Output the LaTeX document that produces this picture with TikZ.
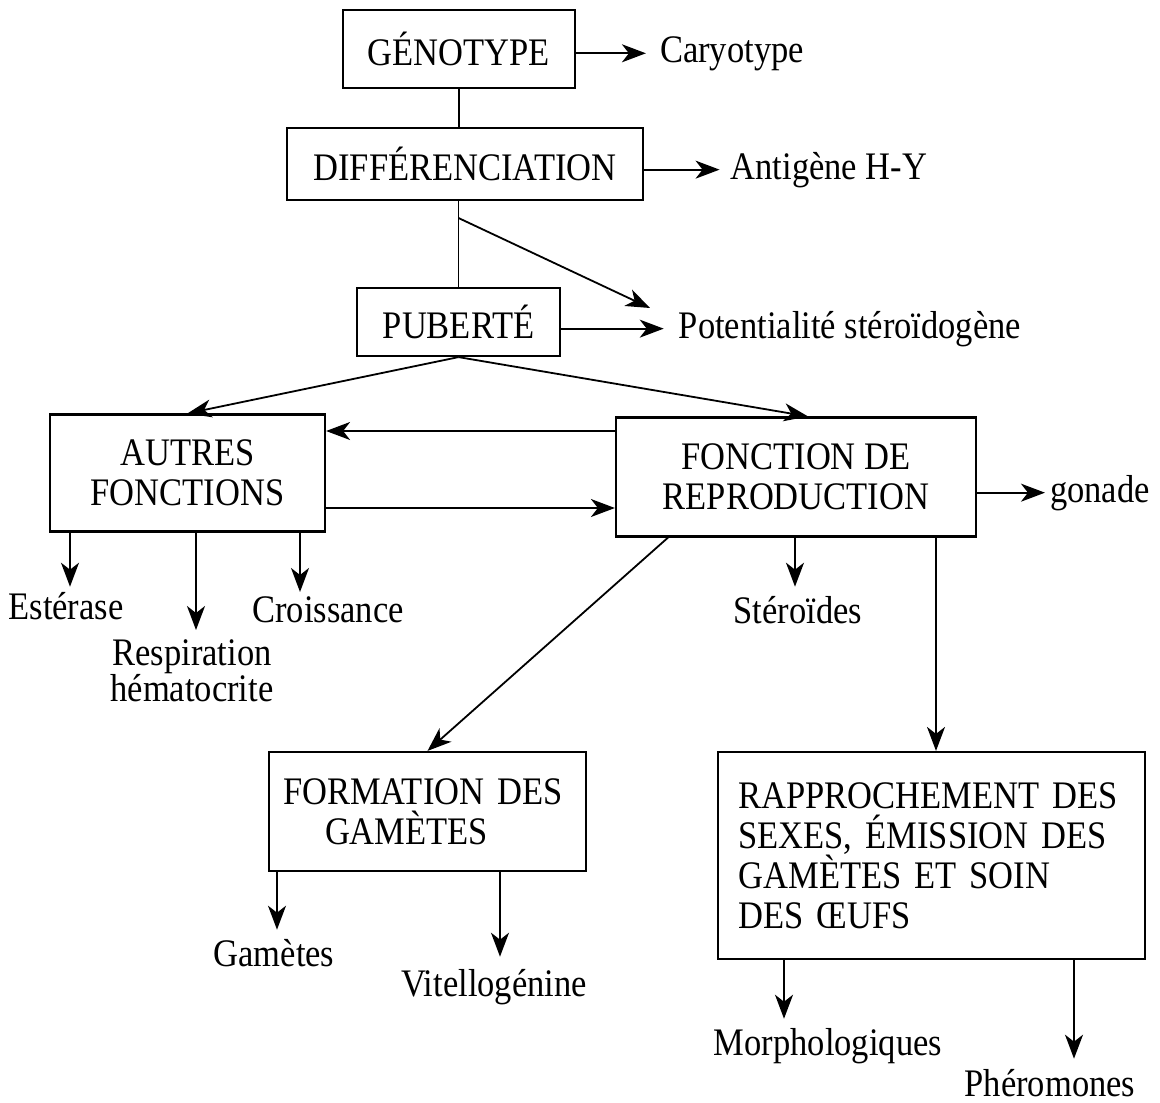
\documentclass[tikz,border=0pt]{standalone}
\usepackage{fontspec}
\setmainfont{Liberation Serif}[FakeStretch=0.885]
\usetikzlibrary{arrows.meta,calc}
\begin{document}
\begin{tikzpicture}[x=1pt,y=-1pt,
  box/.style={draw,line width=2.2pt,inner sep=0pt,align=center,font=\fontsize{39}{40}\selectfont},
  lbl/.style={inner sep=0pt,anchor=base,font=\fontsize{39}{35}\selectfont},
  ln/.style={line width=1.8pt},
  arr/.style={line width=1.8pt,-{Stealth[length=24pt,width=18pt,inset=7pt]}}]
\useasboundingbox (0,0) rectangle (1160,1103);
\fill[white] (0,0) rectangle (1160,1103);

% boxes
\node[box,minimum width=232pt,minimum height=78pt] (gen) at (459,49) {GÉNOTYPE};
\node[box,minimum width=356pt,minimum height=72pt] (diff) at (465,164) {DIFFÉRENCIATION};
\node[box,minimum width=203pt,minimum height=68pt] (pub) at (458.5,322) {PUBERTÉ};
\node[box,minimum width=275pt,minimum height=117pt] (af) at (187.5,473) {AUTRES\\FONCTIONS};
\node[box,minimum width=360pt,minimum height=119pt] (fdr) at (796,477) {FONCTION DE\\REPRODUCTION};
\node[box,minimum width=317pt,minimum height=119pt,align=left,text width=289pt] (form) at (427.5,811.5) {FORMATION DES\\\hspace*{42pt}GAMÈTES};
\node[box,minimum width=427pt,minimum height=207pt,align=left,text width=386pt] (rapp) at (931.5,855.5) {RAPPROCHEMENT DES\\SEXES, ÉMISSION DES\\GAMÈTES ET SOIN\\DES ŒUFS};

% labels
\node[lbl] (car) at (732,62) {Caryotype};
\node[lbl] (ant) at (829,179) {Antigène H-Y};
\node[lbl] (pot) at (850,338) {Potentialité stéroïdogène};
\node[lbl] (gon) at (1100,502) {gonade};
\node[lbl] (est) at (66,619) {Estérase};
\node[inner sep=0pt,anchor=north,align=center,font=\fontsize{39}{35}\selectfont] (resp) at (192,639) {Respiration\\hématocrite};
\node[lbl] (crois) at (328,622) {Croissance};
\node[lbl] (ster) at (798,623) {Stéroïdes};
\node[lbl] (gam) at (274,966) {Gamètes};
\node[lbl] (vit) at (494,996) {Vitellogénine};
\node[lbl] (morph) at (828,1055) {Morphologiques};
\node[lbl] (pher) at (1050,1096) {Phéromones};

% connectors
\draw[ln] (gen.south) -- (gen.south |- diff.north);
\draw[arr,shorten >=14pt] (gen.east |- car.west) -- (car.west);
\draw[arr,shorten >=11pt] (diff.east |- ant.west) -- (ant.west);
\draw[ln] (pub.north) -- (pub.north |- diff.south);
\coordinate (br) at (458.5,218);
\coordinate (ptip) at (650,308);
\draw[arr] (br) -- (ptip);
\draw[arr,shorten >=15pt] (pub.east |- pot.west) -- (pot.west);
\draw[arr] (pub.south) -- (af.north);
\draw[arr] (pub.south) -- ($(fdr.north)+(12,0)$);
\draw[arr] (fdr.west |- 0,431) -- (af.east |- 0,431);
\draw[arr] (af.east |- 0,508) -- (fdr.west |- 0,508);
\draw[arr,shorten >=5pt] (fdr.east |- gon.west) -- (gon.west);

\draw[arr,shorten >=5pt] (af.south -| 70,0) -- (est.north -| 70,0);
\draw[arr,shorten >=9pt] (af.south -| 196,0) -- (resp.north -| 196,0);
\draw[arr,shorten >=4pt] (af.south -| 300,0) -- (crois.north -| 300,0);

\draw[arr,shorten >=9pt] (fdr.south -| 795,0) -- (ster.north -| 795,0);
\draw[arr] (fdr.south -| 668,0) -- (form.north);
\draw[arr] (fdr.south -| 936,0) -- (rapp.north -| 936,0);

\draw[arr,shorten >=9pt] (form.south -| 277,0) -- (gam.north -| 277,0);
\draw[arr,shorten >=12pt] (form.south -| 500,0) -- (vit.north -| 500,0);
\draw[arr,shorten >=9pt] (rapp.south -| 784,0) -- (morph.north -| 784,0);
\draw[arr,shorten >=10pt] (rapp.south -| 1074,0) -- (pher.north -| 1074,0);
\end{tikzpicture}
\end{document}
